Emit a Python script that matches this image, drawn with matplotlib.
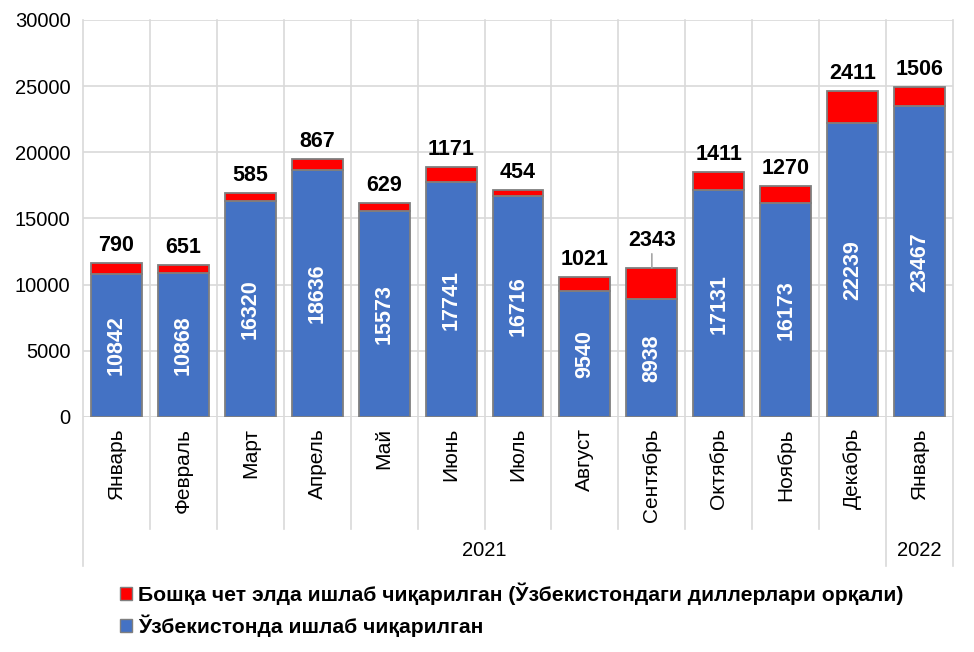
import matplotlib
matplotlib.use("Agg")
import matplotlib.pyplot as plt
from matplotlib.patches import Patch
from matplotlib.lines import Line2D
import matplotlib.transforms as mtransforms

months = ["Январь", "Февраль", "Март", "Апрель", "Май", "Июнь", "Июль",
          "Август", "Сентябрь", "Октябрь", "Ноябрь", "Декабрь", "Январь"]
years = ["2021", "2022"]
year_spans = [(0, 11), (12, 12)]
local = [10842, 10868, 16320, 18636, 15573, 17741, 16716,
         9540, 8938, 17131, 16173, 22239, 23467]
imported = [790, 651, 585, 867, 629, 1171, 454,
            1021, 2343, 1411, 1270, 2411, 1506]
lbl_red = "Бошқа чет элда ишлаб чиқарилган (Ўзбекистондаги диллерлари орқали)"
lbl_blue = "Ўзбекистонда ишлаб чиқарилган"

plt.rcParams["font.family"] = ["Liberation Sans", "DejaVu Sans"]
BLUE, RED, EDGE, GRID = "#4472C4", "#FF0000", "#7F7F7F", "#D9D9D9"

fig = plt.figure(figsize=(9.74, 6.52), dpi=100)
ax = fig.add_axes([83 / 974, 1 - 417 / 652, 870 / 974, 397 / 652])

x = list(range(len(months)))
w = 0.76
ax.bar(x, local, w, color=BLUE, edgecolor=EDGE, linewidth=1.3, zorder=3)
ax.bar(x, imported, w, bottom=local, color=RED, edgecolor=EDGE,
       linewidth=1.3, zorder=3)

ax.set_xlim(-0.5, len(months) - 0.5)
ax.set_ylim(0, 30000)
ax.set_yticks(range(0, 30001, 5000))
ax.tick_params(axis="y", labelsize=14.5, length=0, pad=9)
ax.set_xticks(x)
ax.set_xticklabels(months, rotation=90, fontsize=15, va="top")
ax.tick_params(axis="x", length=0, pad=8)
ax.yaxis.grid(True, color=GRID, lw=1.2, zorder=0)
for s in ax.spines.values():
    s.set_visible(False)
ax.axhline(0, color=GRID, lw=1.2, zorder=2)

# category borders, extending into the label area
trans = mtransforms.blended_transform_factory(ax.transData, ax.transAxes)
long_edges = {0, 12, 13}
for k in range(len(months) + 1):
    y0 = -0.375 if k in long_edges else -0.283
    ax.add_line(Line2D([k - 0.5, k - 0.5], [y0, 1], transform=trans,
                       color=GRID, lw=1.2, clip_on=False, zorder=1))

for yr, (a, b) in zip(years, year_spans):
    ax.text((a + b) / 2, -0.3375, yr, transform=trans, ha="center",
            va="center", fontsize=14.5)

# value labels
for i in x:
    ax.text(i, local[i] / 2, f"{local[i]}", rotation=90, ha="center",
            va="center", color="white", fontsize=15.5, fontweight="bold",
            zorder=4)
    top = local[i] + imported[i]
    if i == 8:
        ax.annotate(f"{imported[i]}", (i, top), xytext=(0, 12),
                    textcoords="offset points", ha="center", va="bottom",
                    fontsize=15.5, fontweight="bold",
                    arrowprops=dict(arrowstyle="-", color="#A6A6A6", lw=1.2,
                                    shrinkA=0, shrinkB=0))
    else:
        ax.annotate(f"{imported[i]}", (i, top), xytext=(0, 5),
                    textcoords="offset points", ha="center", va="bottom",
                    fontsize=15.5, fontweight="bold")

handles = [Patch(facecolor=RED, edgecolor=EDGE, lw=1),
           Patch(facecolor=BLUE, edgecolor=EDGE, lw=1)]
fig.legend(handles, [lbl_red, lbl_blue], loc="upper left",
           bbox_to_anchor=(112 / 974, 1 - 574 / 652), frameon=False,
           handlelength=0.55, handleheight=0.55, handletextpad=0.3,
           labelspacing=0.45, borderaxespad=0,
           prop=dict(weight="bold", size=15.2))

fig.savefig("out.png", dpi=100)
